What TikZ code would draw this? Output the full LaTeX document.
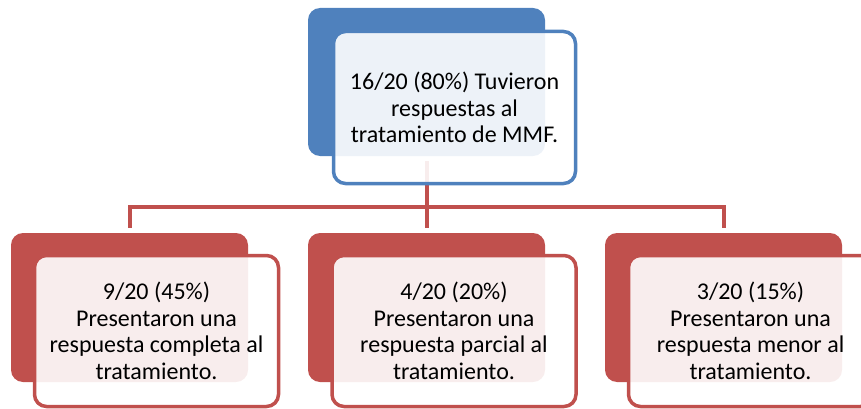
\documentclass[tikz,border=0pt]{standalone}
\usepackage{fontspec}
\setmainfont{Carlito}
\definecolor{accblue}{HTML}{4F81BD}
\definecolor{accred}{HTML}{C0504D}
\begin{document}
\begin{tikzpicture}[x=1pt,y=-1pt,
  backbox/.style={rectangle, rounded corners=12pt, draw=none, inner sep=0pt},
  frontbox/.style={rectangle, rounded corners=12pt, line width=3.5pt, fill=white, fill opacity=0.9, text opacity=1, inner sep=0pt, align=center, font=\fontsize{24}{26.5}\selectfont},
  conn/.style={draw=accred, line width=4pt, line join=miter}]
\useasboundingbox (0,0) rectangle (861,409);
\clip (0,0) rectangle (861,409);
% back boxes
\node[backbox, fill=accblue, minimum width=237pt, minimum height=148pt] (tb) at (426.5,82) {};
\node[backbox, fill=accred, minimum width=237pt, minimum height=149pt] (b1) at (129.5,307.5) {};
\node[backbox, fill=accred, minimum width=237pt, minimum height=149pt] (b2) at (426.5,307.5) {};
\node[backbox, fill=accred, minimum width=237pt, minimum height=149pt] (b3) at (723.5,307.5) {};
% connectors
\draw[conn] ([yshift=-5pt]tb.south) -- ([yshift=5pt]b2.north);
\draw[conn] ([yshift=5pt]b1.north) |- ([yshift=26pt]b2.north) -| ([yshift=5pt]b3.north);
% front boxes
\node[frontbox, draw=accblue, minimum width=242pt, minimum height=152pt] (tf) at (454.5,107.5) {16/20 (80\%) Tuvieron\\respuestas al\\tratamiento de MMF.};
\node[frontbox, draw=accred, minimum width=244pt, minimum height=151pt] (f1) at (156.5,331) {9/20 (45\%)\\Presentaron una\\respuesta completa al\\tratamiento.};
\node[frontbox, draw=accred, minimum width=244pt, minimum height=151pt] (f2) at (454,331) {4/20 (20\%)\\Presentaron una\\respuesta parcial al\\tratamiento.};
\node[frontbox, draw=accred, minimum width=244pt, minimum height=151pt] (f3) at (750.5,331) {3/20 (15\%)\\Presentaron una\\respuesta menor al\\tratamiento.};
\end{tikzpicture}
\end{document}
